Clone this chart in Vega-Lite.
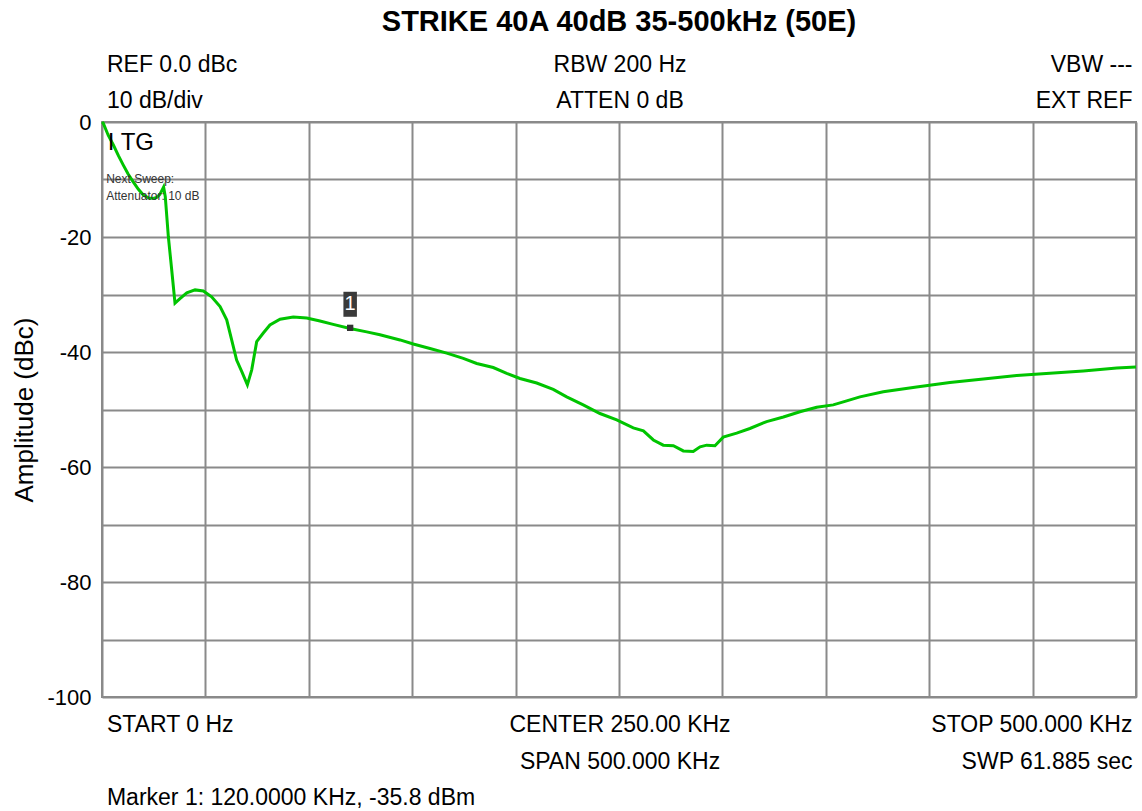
{
  "$schema": "https://vega.github.io/schema/vega-lite/v6.json",
  "width": 1034,
  "height": 575,
  "autosize": {"type": "none"},
  "padding": {"left": 102, "top": 122, "right": 6, "bottom": 114},
  "background": "white",
  "config": {
    "view": {"stroke": "#8a8a8a", "strokeWidth": 2},
    "font": "Liberation Sans",
    "text": {"font": "Liberation Sans"}
  },
  "datasets": {
    "trace": [
      {"kHz": 0, "dB": 0},
      {"kHz": 0.6, "dB": -0.2},
      {"kHz": 3.0, "dB": -2.3},
      {"kHz": 5.5, "dB": -4.0},
      {"kHz": 8.0, "dB": -5.9},
      {"kHz": 10.3, "dB": -7.5},
      {"kHz": 12.7, "dB": -9.1},
      {"kHz": 15.1, "dB": -10.4},
      {"kHz": 17.6, "dB": -11.7},
      {"kHz": 20.0, "dB": -12.7},
      {"kHz": 22.4, "dB": -13.2},
      {"kHz": 24.8, "dB": -13.3},
      {"kHz": 26.5, "dB": -13.1},
      {"kHz": 28.0, "dB": -12.6},
      {"kHz": 29.8, "dB": -11.3},
      {"kHz": 30.6, "dB": -13.0},
      {"kHz": 32.1, "dB": -20.0},
      {"kHz": 33.7, "dB": -25.7},
      {"kHz": 35.3, "dB": -31.5},
      {"kHz": 37.7, "dB": -30.7},
      {"kHz": 41.0, "dB": -29.7},
      {"kHz": 45.0, "dB": -29.2},
      {"kHz": 49.0, "dB": -29.4},
      {"kHz": 53.0, "dB": -30.4},
      {"kHz": 57.1, "dB": -32.1},
      {"kHz": 60.3, "dB": -34.4},
      {"kHz": 62.7, "dB": -37.9},
      {"kHz": 65.1, "dB": -41.4},
      {"kHz": 67.6, "dB": -43.4},
      {"kHz": 70.3, "dB": -45.7},
      {"kHz": 72.4, "dB": -43.1},
      {"kHz": 74.8, "dB": -38.2},
      {"kHz": 78.0, "dB": -36.7},
      {"kHz": 81.2, "dB": -35.3},
      {"kHz": 86.1, "dB": -34.3},
      {"kHz": 92.5, "dB": -33.9},
      {"kHz": 99.0, "dB": -34.1},
      {"kHz": 105.4, "dB": -34.6},
      {"kHz": 111.8, "dB": -35.2},
      {"kHz": 119.9, "dB": -35.9},
      {"kHz": 128.0, "dB": -36.5},
      {"kHz": 134.4, "dB": -37.0},
      {"kHz": 144.1, "dB": -37.9},
      {"kHz": 150.5, "dB": -38.6},
      {"kHz": 158.6, "dB": -39.4},
      {"kHz": 166.7, "dB": -40.2},
      {"kHz": 174.7, "dB": -41.1},
      {"kHz": 181.2, "dB": -42.0},
      {"kHz": 189.2, "dB": -42.7},
      {"kHz": 195.7, "dB": -43.7},
      {"kHz": 202.1, "dB": -44.6},
      {"kHz": 210.2, "dB": -45.4},
      {"kHz": 218.2, "dB": -46.5},
      {"kHz": 224.7, "dB": -47.8},
      {"kHz": 232.7, "dB": -49.2},
      {"kHz": 240.8, "dB": -50.7},
      {"kHz": 248.9, "dB": -51.8},
      {"kHz": 256.9, "dB": -53.2},
      {"kHz": 261.8, "dB": -53.7},
      {"kHz": 266.6, "dB": -55.3},
      {"kHz": 271.4, "dB": -56.2},
      {"kHz": 276.3, "dB": -56.3},
      {"kHz": 281.1, "dB": -57.2},
      {"kHz": 285.9, "dB": -57.3},
      {"kHz": 289.2, "dB": -56.5},
      {"kHz": 292.4, "dB": -56.2},
      {"kHz": 296.4, "dB": -56.3},
      {"kHz": 300.4, "dB": -54.8},
      {"kHz": 306.9, "dB": -54.1},
      {"kHz": 313.3, "dB": -53.3},
      {"kHz": 321.4, "dB": -52.1},
      {"kHz": 329.5, "dB": -51.3},
      {"kHz": 337.5, "dB": -50.4},
      {"kHz": 345.6, "dB": -49.6},
      {"kHz": 353.6, "dB": -49.2},
      {"kHz": 360.1, "dB": -48.5},
      {"kHz": 366.5, "dB": -47.8},
      {"kHz": 377.8, "dB": -46.9},
      {"kHz": 393.9, "dB": -46.1},
      {"kHz": 410.0, "dB": -45.3},
      {"kHz": 426.2, "dB": -44.7},
      {"kHz": 442.3, "dB": -44.1},
      {"kHz": 458.4, "dB": -43.7},
      {"kHz": 474.5, "dB": -43.3},
      {"kHz": 490.7, "dB": -42.8},
      {"kHz": 500.0, "dB": -42.6}
    ],
    "marker": [{"kHz": 120, "dB": -35.8, "label": "1", "labelDb": -31.7}],
    "title": [{"kHz": 250, "dB": 17.4, "label": "STRIKE 40A 40dB 35-500kHz (50E)"}],
    "notesLeft": [
      {"kHz": 2.4, "dB": 9.9, "label": "REF 0.0 dBc"},
      {"kHz": 2.4, "dB": 3.65, "label": "10 dB/div"},
      {"kHz": 2.4, "dB": -104.9, "label": "START 0 Hz"},
      {"kHz": 2.4, "dB": -117.6, "label": "Marker 1: 120.0000 KHz, -35.8 dBm"}
    ],
    "notesCenter": [
      {"kHz": 250.5, "dB": 9.9, "label": "RBW 200 Hz"},
      {"kHz": 250.5, "dB": 3.65, "label": "ATTEN 0 dB"},
      {"kHz": 250.5, "dB": -104.9, "label": "CENTER 250.00 KHz"},
      {"kHz": 250.5, "dB": -111.3, "label": "SPAN 500.000 KHz"}
    ],
    "notesRight": [
      {"kHz": 498.3, "dB": 9.9, "label": "VBW ---"},
      {"kHz": 498.3, "dB": 3.65, "label": "EXT REF"},
      {"kHz": 498.3, "dB": -104.9, "label": "STOP 500.000 KHz"},
      {"kHz": 498.3, "dB": -111.3, "label": "SWP 61.885 sec"}
    ],
    "inner": [{"kHz": 2.8, "dB": -3.6, "label": "I TG"}],
    "innerSmall": [
      {"kHz": 2.0, "dB": -9.97, "label": "Next Sweep:"},
      {"kHz": 2.0, "dB": -12.9, "label": "Attenuator: 10 dB"}
    ]
  },
  "encoding": {
    "x": {
      "field": "kHz",
      "type": "quantitative",
      "scale": {"domain": [0, 500], "nice": false, "zero": false},
      "axis": {
        "title": null,
        "labels": false,
        "ticks": false,
        "domain": false,
        "grid": true,
        "values": [0, 50, 100, 150, 200, 250, 300, 350, 400, 450, 500],
        "gridColor": "#8a8a8a",
        "gridWidth": 2,
        "gridOpacity": 1
      }
    },
    "y": {
      "field": "dB",
      "type": "quantitative",
      "scale": {"domain": [-100, 0], "nice": false, "zero": false},
      "axis": {
        "title": "Amplitude (dBc)",
        "titleFont": "Liberation Sans",
        "titleFontSize": 26,
        "titleFontWeight": "normal",
        "titleColor": "#000000",
        "titlePadding": 9,
        "labels": true,
        "labelFont": "Liberation Sans",
        "labelFontSize": 22,
        "labelColor": "#000000",
        "labelPadding": 11,
        "labelExpr": "datum.value % 20 === 0 ? toString(datum.value) : ''",
        "ticks": false,
        "domain": false,
        "grid": true,
        "values": [-100, -90, -80, -70, -60, -50, -40, -30, -20, -10, 0],
        "gridColor": "#8a8a8a",
        "gridWidth": 2,
        "gridOpacity": 1,
        "labelOverlap": false
      }
    }
  },
  "layer": [
    {
      "data": {"name": "trace"},
      "mark": {"type": "line", "color": "#00c400", "strokeWidth": 3, "interpolate": "linear"}
    },
    {
      "data": {"name": "marker"},
      "mark": {"type": "point", "shape": "square", "filled": true, "size": 40, "color": "#333333", "opacity": 1}
    },
    {
      "data": {"name": "marker"},
      "mark": {"type": "point", "shape": "M-0.54,-1H0.54V1H-0.54Z", "filled": true, "size": 625, "color": "#3a3a3a", "opacity": 1, "strokeWidth": 0},
      "encoding": {"y": {"field": "labelDb", "type": "quantitative"}}
    },
    {
      "data": {"name": "marker"},
      "mark": {"type": "text", "color": "#ffffff", "fontSize": 20, "baseline": "middle", "align": "center"},
      "encoding": {"y": {"field": "labelDb", "type": "quantitative"}, "text": {"field": "label"}}
    },
    {
      "data": {"name": "title"},
      "mark": {"type": "text", "fontSize": 29, "fontWeight": "bold", "color": "#000000", "baseline": "middle", "align": "center"},
      "encoding": {"text": {"field": "label"}}
    },
    {
      "data": {"name": "notesLeft"},
      "mark": {"type": "text", "fontSize": 23, "color": "#000000", "baseline": "middle", "align": "left"},
      "encoding": {"text": {"field": "label"}}
    },
    {
      "data": {"name": "notesCenter"},
      "mark": {"type": "text", "fontSize": 23, "color": "#000000", "baseline": "middle", "align": "center"},
      "encoding": {"text": {"field": "label"}}
    },
    {
      "data": {"name": "notesRight"},
      "mark": {"type": "text", "fontSize": 23, "color": "#000000", "baseline": "middle", "align": "right"},
      "encoding": {"text": {"field": "label"}}
    },
    {
      "data": {"name": "inner"},
      "mark": {"type": "text", "fontSize": 24, "color": "#000000", "baseline": "middle", "align": "left"},
      "encoding": {"text": {"field": "label"}}
    },
    {
      "data": {"name": "innerSmall"},
      "mark": {"type": "text", "fontSize": 12, "color": "#333333", "baseline": "middle", "align": "left"},
      "encoding": {"text": {"field": "label"}}
    }
  ]
}
